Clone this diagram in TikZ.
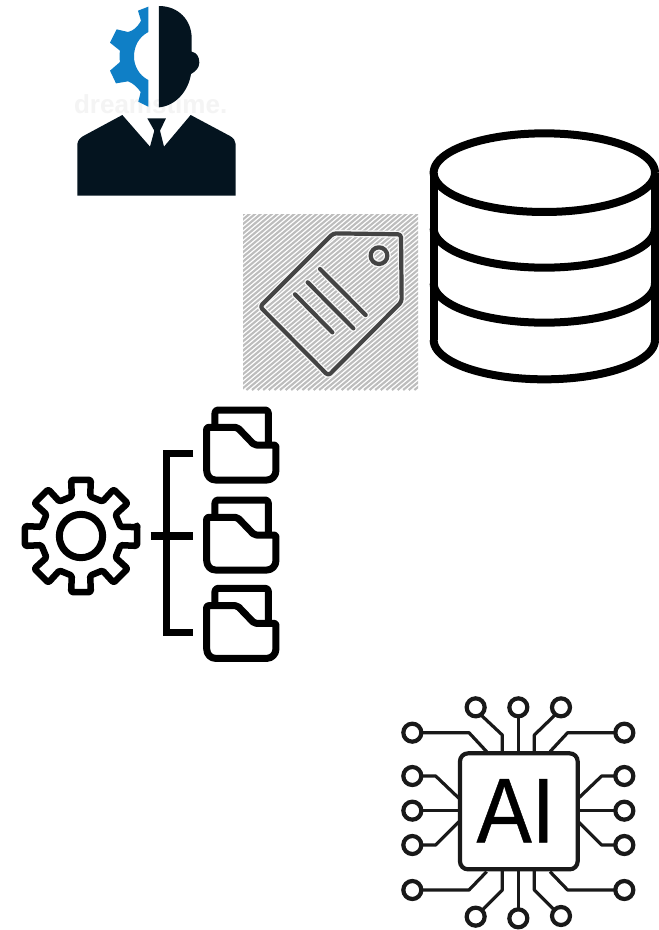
\documentclass[tikz,border=0pt]{standalone}
\usepackage{fontspec}
\setmainfont{Liberation Sans}
\definecolor{navyink}{HTML}{04141F}
\definecolor{gearblue}{HTML}{0F7FC6}
\definecolor{tagink}{HTML}{444444}
\definecolor{hatchgrey}{HTML}{BDBDBD}
\definecolor{markgrey}{HTML}{F4F4F4}
\tikzset{
  iconline/.style={draw=black,line width=#1,line join=round,fill=none},
  iconline/.default=7pt,
  leadline/.style={draw=black!90,line width=3.2pt,line join=round},
  padring/.style={draw=black!90,line width=4.2pt,fill=white},
  tagline/.style={draw=tagink,line width=4.2pt,line cap=round,line join=round},
  taghalo/.style={draw=white!85!hatchgrey,line width=7pt,line cap=round,line join=round}
}
\begin{document}
\begin{tikzpicture}[x=1pt,y=-1pt]
\useasboundingbox (0,0) rectangle (659,930);
\fill[white] (0,0) rectangle (659,930);

% person
\begin{scope}[shift={(60,0)},scale=1/3]
  \node[text=markgrey,font=\bfseries\fontsize{26}{26}\selectfont,inner sep=0pt] (watermark) at (272,314) {dreamstime.};
  \fill[gearblue] (265,20) -- (234,32) -- (243,62) .. controls (232,82) and (220,92) .. (204,96)
    -- (170,88) -- (150,128) -- (180,152) .. controls (178,165) and (178,172) .. (180,186)
    -- (150,212) -- (168,250) -- (204,244) .. controls (220,250) and (232,262) .. (242,276)
    -- (235,305) -- (265,320) -- (265,240) .. controls (235,225) and (222,195) .. (222,170)
    .. controls (222,140) and (235,112) .. (265,96) -- cycle;
  \fill[navyink] (297,18) .. controls (355,18) and (395,60) .. (395,115) -- (395,155)
    .. controls (410,158) and (418,170) .. (418,188) .. controls (418,205) and (405,215) .. (393,222)
    .. controls (385,275) and (345,318) .. (297,322) -- cycle;
  \fill[navyink] (52,432) .. controls (54,420) and (60,414) .. (70,408) -- (187,345) -- (270,440)
    -- (283,392) -- (262,355) -- (318,355) -- (300,392) -- (312,440) -- (392,345) -- (510,408)
    .. controls (520,414) and (527,422) .. (527,432) -- (527,587) -- (52,587) -- cycle;
\end{scope}

% hatched tag
\begin{scope}
  \clip (243,214) rectangle (418,390);
  \foreach \s in {0,...,80}{
    \draw[hatchgrey,line width=2.1pt] ({243-215+\s*5.6},390) -- ({243+\s*5.6},{390-180});
  }
\end{scope}
\begin{scope}[shift={(235,205)},scale=1/3]
  \draw[taghalo,rounded corners=3pt] (295,85) -- (498,88) -- (500,290) -- (280,512) -- (75,305) -- cycle;
  \draw[taghalo] (432,152) circle (25);
  \draw[taghalo] (255,192) -- (392,330);
  \draw[taghalo] (218,232) -- (355,370);
  \draw[taghalo] (180,268) -- (292,382);
  \draw[tagline,rounded corners=3pt] (295,85) -- (498,88) -- (500,290) -- (280,512) -- (75,305) -- cycle;
  \draw[tagline] (432,152) circle (25);
  \draw[tagline] (255,192) -- (392,330);
  \draw[tagline] (218,232) -- (355,370);
  \draw[tagline] (180,268) -- (292,382);
\end{scope}

% database
\begin{scope}[shift={(425,120)},scale=1/3]
  \draw[iconline=8pt] plot[domain=0:360,samples=90,smooth] ({358+332*cos(\x)},{158+118*sin(\x)});
  \draw[iconline=8pt] (26,158) -- (26,660);
  \draw[iconline=8pt] (690,158) -- (690,660);
  \foreach \c/\r in {325/118,490/118,660/118}{
    \draw[iconline=8pt] plot[domain=0:180,samples=50,smooth] ({358+332*cos(\x)},{\c+\r*sin(\x)});
  }
\end{scope}

% gear, bracket and folders
\begin{scope}[shift={(10,400)},scale=1/3]
  \begin{scope}[shift={(213,408)}]
    \draw[iconline=6.5pt,rounded corners=1.5pt]
      (-9:171) \foreach \a in {0,45,...,315}{
        -- (\a-10:171) -- (\a+10:171) -- (\a+13:122) -- (\a+32:122)
      } -- cycle;
    \draw[iconline=7pt] (0,0) circle (65);
  \end{scope}
  \draw[iconline=7.5pt,line cap=butt,line join=miter] (550,160) -- (470,160) -- (470,697) -- (550,697);
  \draw[iconline=7.5pt,line cap=butt] (422,408) -- (550,408);
  \foreach \o in {0,270,535}{
    \begin{scope}[shift={(0,\o)}]
      \draw[iconline=7pt,rounded corners=3pt] (615,78) -- (615,30) -- (775,30) -- (775,130);
      \draw[iconline=7pt,rounded corners=2pt] (590,125) -- (590,82) -- (682,82) -- (733,135) -- (798,135)
        -- (798,205) .. controls (798,228) and (785,240) .. (765,240) -- (622,240)
        .. controls (602,240) and (590,228) .. (590,205) -- cycle;
    \end{scope}
  }
\end{scope}

% AI chip
\begin{scope}[shift={(395,690)},scale=1/3]
  \draw[leadline] (80,128) -- (222,128) -- (275,185);
  \draw[leadline] (258,75) -- (322,135) -- (322,190);
  \draw[leadline] (370,80) -- (370,190);
  \draw[leadline] (480,75) -- (418,135) -- (418,190);
  \draw[leadline] (660,128) -- (518,128) -- (465,185);
  \draw[leadline] (80,258) -- (122,258) -- (192,325);
  \draw[leadline] (80,362) -- (192,362);
  \draw[leadline] (80,465) -- (122,465) -- (192,395);
  \draw[leadline] (660,258) -- (620,258) -- (550,325);
  \draw[leadline] (660,362) -- (550,362);
  \draw[leadline] (660,465) -- (620,465) -- (550,395);
  \draw[leadline] (80,600) -- (222,600) -- (275,545);
  \draw[leadline] (262,660) -- (322,600) -- (322,540);
  \draw[leadline] (370,655) -- (370,540);
  \draw[leadline] (478,660) -- (418,600) -- (418,540);
  \draw[leadline] (660,600) -- (518,600) -- (465,545);
  \draw[draw=black!90,line width=4.2pt,fill=white,rounded corners=8pt] (195,190) rectangle (548,538);
  \foreach \x/\y in {242/52,370/52,498/52,52/128,52/258,52/362,52/465,52/600,688/128,688/258,688/362,688/465,688/600,242/680,370/685,498/678}{
    \draw[padring] (\x,\y) circle (27);
  }
  \node[font=\fontsize{92}{92}\selectfont\addfontfeature{FakeBold=0.5},inner sep=0pt,text=black] (ailabel) at (362,362) {\scalebox{.9}[1]{AI}};
\end{scope}
\end{tikzpicture}
\end{document}
